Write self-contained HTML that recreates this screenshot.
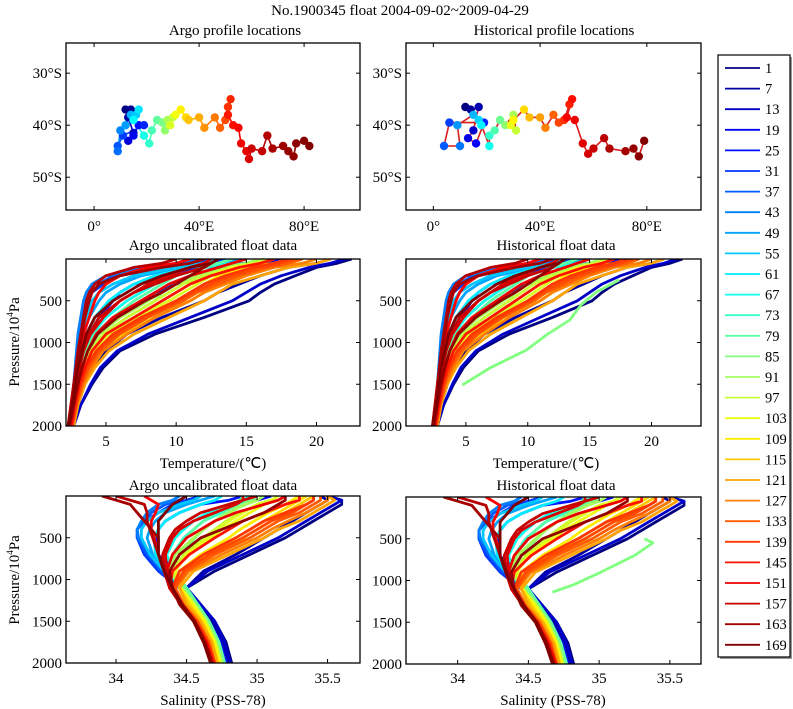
<!DOCTYPE html>
<html><head><meta charset="utf-8"><style>
html,body{margin:0;padding:0;background:#fff;}
svg{display:block;font-family:"Liberation Serif",serif;}
</style></head><body>
<svg id="fig" width="793" height="709" viewBox="0 0 793 709" xmlns="http://www.w3.org/2000/svg">
<rect width="793" height="709" fill="#fff"/>
<text x="400" y="15" text-anchor="middle" font-size="15">No.1900345 float 2004-09-02~2009-04-29</text>
<text x="235" y="35" text-anchor="middle" font-size="15">Argo profile locations</text>
<text x="554" y="35" text-anchor="middle" font-size="15">Historical profile locations</text>
<text x="213" y="250" text-anchor="middle" font-size="15">Argo uncalibrated float data</text>
<text x="556" y="250" text-anchor="middle" font-size="15">Historical  float data</text>
<text x="213" y="468" text-anchor="middle" font-size="15">Temperature/(℃)</text>
<text x="546" y="468" text-anchor="middle" font-size="15">Temperature/(℃)</text>
<text x="213" y="490" text-anchor="middle" font-size="15">Argo uncalibrated float data</text>
<text x="556" y="490" text-anchor="middle" font-size="15">Historical  float data</text>
<text x="213" y="705" text-anchor="middle" font-size="15">Salinity (PSS-78)</text>
<text x="553" y="705" text-anchor="middle" font-size="15">Salinity (PSS-78)</text>
<text transform="translate(19,342) rotate(-90)" text-anchor="middle" font-size="15">Pressure/10<tspan font-size="9" dy="-6">4</tspan><tspan dy="6">Pa</tspan></text>
<text transform="translate(19,580) rotate(-90)" text-anchor="middle" font-size="15">Pressure/10<tspan font-size="9" dy="-6">4</tspan><tspan dy="6">Pa</tspan></text>
<g id="layers"></g>
</svg>
<script>
// ---------- data ----------
const depthLevels=[0,50,100,200,300,400,500,700,900,1100,1300,1500,1750,2000];
const profileNums=[1,7,19,25,31,37,43,49,55,61,67,73,79,85,91,97,103,109,115,121,127,133,139,145,151,157,163,169,13,100,112,136,148,154,160,166];
const tempArgo=[
[22.5,21.5,20,18.5,17,16,15.2,12,8.5,6,4.8,4,3.2,2.7],
[21,20,18,16,14.5,13,12,9,6.5,5,4,3.5,3,2.6],
[18,16,14,12,10,8.5,7.5,5.5,4.2,3.6,3.2,3,2.8,2.5],
[17,15,12,9,7,6,5.5,4.5,3.8,3.4,3.1,2.9,2.7,2.5],
[14,12,9,6,4.8,4,3.7,3.4,3.2,3,2.9,2.8,2.6,2.4],
[13,11,8,5.5,4.5,4,3.6,3.3,3.1,3,2.9,2.7,2.6,2.4],
[12,10,8,5,4,3.6,3.4,3.2,3,2.9,2.8,2.7,2.6,2.4],
[15,13,10.5,7.5,6,5,4.5,3.8,3.4,3.1,3,2.8,2.6,2.4],
[13,12,10,7,5.5,4.5,4,3.6,3.3,3.1,3,2.8,2.6,2.4],
[14,13,11,8.5,7,6,5.2,4.2,3.6,3.3,3.1,2.9,2.7,2.4],
[15,14,12,10,8.5,7.5,6.5,5,4,3.5,3.2,3,2.8,2.5],
[16,15,13,11,9.5,8.5,7.5,5.8,4.5,3.8,3.4,3.1,2.8,2.5],
[14,13,12,10,9,8,7,5.5,4.2,3.6,3.3,3,2.8,2.5],
[15,14,13,11,10,9,8.5,6.5,4.8,4,3.5,3.1,2.8,2.5],
[16,15,13.5,11.5,10,9,8,6,4.5,3.8,3.4,3.1,2.8,2.5],
[16.5,15.5,14,12,10.5,9.5,8.5,6.5,4.8,3.9,3.4,3.1,2.8,2.5],
[17,16,14,12.5,11,10,9,7,5,4,3.5,3.1,2.8,2.6],
[18,17,15,13,12,11,10,7.5,5.5,4.3,3.6,3.2,2.9,2.6],
[19,18,16,14,12.5,11.5,10.5,8,6,4.5,3.8,3.3,2.9,2.6],
[21,20,18,16,14,13,12,9.5,7,5.2,4.2,3.5,3,2.7],
[20,19,17,15,13.5,12,11,8.5,6.5,4.8,4,3.4,2.9,2.6],
[19,18,16.5,14.5,13,11.5,10.5,8,6,4.6,3.8,3.3,2.9,2.6],
[18,17,15.5,13.5,12,11,10,7.5,5.5,4.3,3.6,3.2,2.8,2.6],
[17,16,14.5,12.5,11,10,9,7,5,4,3.5,3.1,2.8,2.5],
[15,14,13,11,9.5,8.5,7.5,5.5,4.3,3.7,3.3,3,2.7,2.5],
[13,12.5,12,10,8.5,7,6,4.5,3.8,3.4,3.1,2.9,2.6,2.4],
[12,11,9,6,4.5,4,3.8,3.5,3.3,3.1,2.9,2.8,2.6,2.3],
[13,12.5,11,9,7.5,6.5,5.5,4.2,3.6,3.3,3,2.8,2.6,2.3],
[22,21,19.5,17.5,16,15,14,11,8,5.8,4.6,3.9,3.2,2.7],
[17,16,14.5,12.5,11.5,10.5,9.5,7.2,5.2,4.1,3.5,3.1,2.8,2.6],
[19,18,16.5,14.5,13,12,11,8.5,6.2,4.7,3.9,3.4,3,2.7],
[18.5,17.5,16,14,12.5,11.2,10.2,7.8,5.8,4.4,3.7,3.2,2.9,2.6],
[11,10,8,6,5,4.5,4.2,3.8,3.4,3.1,2.9,2.7,2.5,2.3],
[12.5,12,11,9.5,8,7,6,4.8,3.9,3.4,3.1,2.9,2.6,2.4],
[10,9,7,5,4.2,3.8,3.6,3.4,3.2,3,2.85,2.7,2.5,2.3],
[13,12.5,12,11,10,9,7.8,5.8,4.4,3.7,3.3,3,2.7,2.4]];
const salArgo=[
[35.5,35.6,35.6,35.5,35.4,35.3,35.2,34.95,34.7,34.5,34.6,34.7,34.78,34.82],
[35.45,35.5,35.45,35.35,35.25,35.15,35.05,34.85,34.62,34.5,34.58,34.68,34.76,34.8],
[35.1,35.0,34.9,34.7,34.55,34.45,34.4,34.35,34.4,34.5,34.58,34.66,34.74,34.78],
[34.9,34.8,34.6,34.45,34.35,34.3,34.28,34.3,34.38,34.48,34.57,34.65,34.73,34.78],
[34.6,34.5,34.4,34.3,34.2,34.15,34.15,34.2,34.3,34.45,34.55,34.65,34.72,34.76],
[34.5,34.45,34.35,34.25,34.2,34.15,34.15,34.22,34.32,34.46,34.56,34.65,34.72,34.76],
[34.45,34.4,34.3,34.22,34.18,34.15,34.16,34.25,34.35,34.48,34.57,34.66,34.73,34.77],
[34.7,34.6,34.5,34.35,34.28,34.24,34.22,34.26,34.36,34.48,34.57,34.65,34.72,34.76],
[34.6,34.55,34.45,34.3,34.22,34.18,34.18,34.24,34.34,34.47,34.56,34.65,34.72,34.76],
[34.75,34.7,34.6,34.45,34.35,34.3,34.27,34.28,34.36,34.48,34.57,34.65,34.72,34.76],
[34.95,34.9,34.8,34.65,34.55,34.48,34.42,34.36,34.4,34.5,34.58,34.66,34.73,34.77],
[35.0,34.95,34.88,34.75,34.62,34.55,34.48,34.4,34.42,34.5,34.58,34.66,34.73,34.77],
[34.9,34.88,34.82,34.7,34.62,34.55,34.5,34.4,34.42,34.5,34.58,34.66,34.73,34.77],
[35.0,34.95,34.9,34.78,34.7,34.62,34.56,34.45,34.4,34.48,34.57,34.65,34.72,34.76],
[35.05,35.0,34.92,34.8,34.7,34.62,34.55,34.42,34.38,34.46,34.56,34.64,34.71,34.75],
[35.15,35.1,35.0,34.88,34.78,34.7,34.62,34.48,34.4,34.46,34.55,34.63,34.7,34.74],
[35.2,35.15,35.05,34.95,34.85,34.75,34.68,34.5,34.42,34.46,34.55,34.63,34.7,34.74],
[35.3,35.25,35.2,35.08,34.98,34.88,34.8,34.6,34.45,34.45,34.53,34.62,34.69,34.73],
[35.4,35.35,35.3,35.2,35.1,35.0,34.9,34.68,34.5,34.45,34.52,34.6,34.68,34.72],
[35.5,35.55,35.5,35.4,35.3,35.15,35.05,34.8,34.55,34.45,34.5,34.6,34.68,34.72],
[35.5,35.5,35.45,35.35,35.22,35.1,35.0,34.75,34.52,34.42,34.48,34.58,34.66,34.7],
[35.45,35.45,35.4,35.3,35.15,35.05,34.95,34.7,34.5,34.42,34.48,34.58,34.66,34.7],
[35.4,35.4,35.35,35.2,35.05,34.95,34.85,34.62,34.45,34.4,34.47,34.57,34.65,34.7],
[35.3,35.3,35.2,35.05,34.9,34.8,34.7,34.52,34.4,34.38,34.46,34.56,34.64,34.69],
[35.2,35.15,35.05,34.85,34.7,34.6,34.5,34.4,34.36,34.38,34.46,34.56,34.64,34.69],
[35.0,34.9,34.8,34.6,34.5,34.42,34.38,34.33,34.34,34.38,34.46,34.55,34.63,34.68],
[33.9,34.0,34.1,34.15,34.2,34.25,34.3,34.3,34.35,34.4,34.45,34.55,34.62,34.68],
[34.5,34.45,34.4,34.35,34.3,34.3,34.3,34.3,34.34,34.4,34.46,34.55,34.62,34.67],
[35.5,35.6,35.55,35.45,35.35,35.25,35.15,34.9,34.65,34.5,34.6,34.7,34.77,34.81],
[35.15,35.1,35.0,34.9,34.8,34.72,34.65,34.5,34.42,34.46,34.55,34.63,34.7,34.74],
[35.35,35.3,35.25,35.15,35.05,34.95,34.85,34.65,34.48,34.45,34.52,34.61,34.68,34.72],
[35.4,35.4,35.35,35.25,35.1,35.0,34.9,34.66,34.48,34.41,34.47,34.57,34.65,34.7],
[34.2,34.25,34.3,34.28,34.25,34.25,34.27,34.3,34.34,34.4,34.46,34.55,34.62,34.68],
[34.9,34.9,34.85,34.7,34.55,34.45,34.4,34.35,34.36,34.4,34.47,34.56,34.63,34.68],
[34.0,34.1,34.2,34.22,34.22,34.24,34.26,34.3,34.34,34.4,34.46,34.55,34.62,34.68],
[35.2,35.2,35.15,35.05,34.9,34.75,34.6,34.45,34.38,34.4,34.47,34.56,34.63,34.68]];
const histOutlierNum=85;
const histOutlierTempDepth=[250,400,550,730,910,1090,1300,1510];
const histOutlierTemp=[17.4,15.5,14.3,13.4,11.5,9.9,7,4.7];
const histOutlierSalDepth=[500,550,700,910,1050,1140];
const histOutlierSal=[35.32,35.38,35.25,35.0,34.82,34.67];
// map tracks: profile number, longitude (deg E), latitude (deg S)
const argoTrackNum=[1,4,8,12,16,20,24,28,32,36,40,44,48,52,56,60,64,68,72,76,80,84,88,92,96,100,104,108,112,116,120,124,128,132,136,140,142,144,146,148,150,152,154,156,158,160,162,164,165,166,167,168,169];
const argoTrackLon=[12,14,13,15,13,15,17,19,11,9,9,10,12,14,16,17,15,19,21,22,24,26,27,28,30,29,31,33,35,36,40,42,46,48,50,51,52,51,53,55,56,58,59,60,64,66,68,72,74,76,77,80,82];
const argoTrackLat=[37,37,38.5,41.5,43,42,40,40,42,44,45,41,40,38,38,37,39,42,43.5,41,39,39.5,41,39,38.5,40,38,37,38.5,39,38.5,40.5,38.5,40.5,39,36.5,35,38,40,40.5,43.5,45,46.5,44.5,45,42,44.5,44,45,46,43.5,43,44];
const histTrackNum=[1,5,9,14,18,22,27,32,37,42,47,52,57,62,67,72,77,82,87,92,97,102,107,112,117,122,127,132,137,140,143,146,149,151,153,155,157,159,161,163,165,167,169];
const histTrackLon=[12,14,17,15,13,16,19,6,4,10,9,15,17,18,21,21,23,25,27,30,31,29,30,34,36,40,42,45,47,49,51,52,50,53,56,58,60,64,66,72,75,77,79];
const histTrackLat=[36.5,37,36.5,41,42.5,43.5,39.5,39.5,44,44,40,38,39,40,44,42,41,39,40,38,41,40,39,37,38.5,38.5,40.5,38,39.5,39,36,35,38.5,39,43.5,45.5,44.5,42.5,44.5,45,44.5,46,43];
const legendLabels=[1,7,13,19,25,31,37,43,49,55,61,67,73,79,85,91,97,103,109,115,121,127,133,139,145,151,157,163,169];
const mapXTicks=[0,40,80], mapXTickLabels=["0°","40°E","80°E"];
const mapYTicks=[30,40,50], mapYTickLabels=["30°S","40°S","50°S"];
const pTicks=[500,1000,1500,2000];
const tTicks=[5,10,15,20];
const sTicks=[34,34.5,35,35.5];

// ---------- helpers ----------
const NS="http://www.w3.org/2000/svg";
const root=document.getElementById('layers');
function mk(tag,attrs,parent){const e=document.createElementNS(NS,tag);for(const k in attrs)e.setAttribute(k,attrs[k]);(parent||root).appendChild(e);return e;}
function jet(t){
  const r=Math.min(Math.max(Math.min(4*t-1.5,-4*t+4.5),0),1);
  const g=Math.min(Math.max(Math.min(4*t-0.5,-4*t+3.5),0),1);
  const b=Math.min(Math.max(Math.min(4*t+0.5,-4*t+2.5),0),1);
  return `rgb(${Math.round(r*255)},${Math.round(g*255)},${Math.round(b*255)})`;
}
function colorOf(n){return jet((n-1)/168);}
function linScale(d0,d1,r0,r1){return v=>r0+(v-d0)/(d1-d0)*(r1-r0);}

function makeAxes(id,box,xs,ys,xticks,xlabels,yticks,ylabels,xlabY){
  const g=mk('g',{});
  
  
  const cp=mk('clipPath',{id:id+'-clip'},g);
  mk('rect',{x:box.x0,y:box.y0,width:box.x1-box.x0,height:box.y1-box.y0},cp);
  const plot=mk('g',{'clip-path':`url(#${id}-clip)`},g);
  
  
  g._plot=plot;
  g._finish=function(){
    const fr=mk('rect',{x:box.x0,y:box.y0,width:box.x1-box.x0,height:box.y1-box.y0,fill:'none',stroke:'#000','stroke-width':1.3},g);
    
    
    xticks.forEach((v,i)=>{
      const x=xs(v);
      mk('line',{x1:x,x2:x,y1:box.y1,y2:box.y1-4,stroke:'#000'},g);
      mk('line',{x1:x,x2:x,y1:box.y0,y2:box.y0+4,stroke:'#000'},g);
      const t=mk('text',{x:x,y:xlabY,'text-anchor':'middle','font-size':15},g);
      t.textContent=xlabels[i];
      
      
    });
    yticks.forEach((v,i)=>{
      const y=ys(v);
      mk('line',{x1:box.x0,x2:box.x0+4,y1:y,y2:y,stroke:'#000'},g);
      mk('line',{x1:box.x1,x2:box.x1-4,y1:y,y2:y,stroke:'#000'},g);
      const t=mk('text',{x:box.x0-4,y:y+5,'text-anchor':'end','font-size':15},g);
      t.textContent=ylabels[i];
      
      
    });
  };
  return g;
}

function drawMap(id,box,lonMin,lonMax,num,lon,lat,histLine){
  const xs=linScale(lonMin,lonMax,box.x0,box.x1);
  const ys=linScale(24.2,56.3,box.y0,box.y1);
  const ax=makeAxes(id,box,xs,ys,mapXTicks,mapXTickLabels,mapYTicks,mapYTickLabels,231);
  const p=ax._plot;
  for(let i=1;i<num.length;i++){
    const l=mk('line',{x1:xs(lon[i-1]),y1:ys(lat[i-1]),x2:xs(lon[i]),y2:ys(lat[i]),stroke:histLine?'#d81e1e':colorOf(num[i]),'stroke-width':1.6},p);
    
    
  }
  for(let i=0;i<num.length;i++){
    const c=mk('circle',{cx:xs(lon[i]),cy:ys(lat[i]),r:4.2,fill:colorOf(num[i])},p);
    
    
  }
  ax._finish();
}

function drawProfiles(id,box,vmin,vmax,xticks,xlabY,series,extra,extraDepth){
  const xs=linScale(vmin,vmax,box.x0,box.x1);
  const ys=linScale(0,2000,box.y0,box.y1);
  const ax=makeAxes(id,box,xs,ys,xticks,xticks.map(String),pTicks,pTicks.map(String),xlabY);
  const p=ax._plot;
  const items=series.map((vals,i)=>({n:profileNums[i],vals:vals,deps:depthLevels}));
  if(extra) items.push({n:histOutlierNum,vals:extra,deps:extraDepth});
  items.sort((a,b)=>a.n-b.n);
  items.forEach(it=>{
    const pts=it.vals.map((v,j)=>xs(v).toFixed(1)+','+ys(it.deps[j]).toFixed(1)).join(' ');
    const pl=mk('polyline',{points:pts,fill:'none',stroke:colorOf(it.n),'stroke-width':2.8,'stroke-linejoin':'round'},p);
    
    
  });
  ax._finish();
}

// ---------- panels ----------
drawMap('argo-map',{x0:66,x1:360,y0:43,y1:210},-10.7,101.3,argoTrackNum,argoTrackLon,argoTrackLat,false);
drawMap('historical-map',{x0:406,x1:701,y0:43,y1:210},-10.25,100.3,histTrackNum,histTrackLon,histTrackLat,true);
drawProfiles('argo-temp',{x0:66,x1:360,y0:259,y1:426},2.15,23.1,tTicks,446,tempArgo,null,null);
drawProfiles('historical-temp',{x0:406,x1:701,y0:259,y1:426},0.16,24.0,tTicks,446,tempArgo,histOutlierTemp,histOutlierTempDepth);
drawProfiles('argo-sal',{x0:66,x1:360,y0:496,y1:663},33.645,35.73,sTicks,683,salArgo,null,null);
drawProfiles('historical-sal',{x0:406,x1:701,y0:497,y1:664},33.635,35.72,sTicks,683,salArgo,histOutlierSal,histOutlierSalDepth);

// ---------- legend ----------
const lg=mk('g',{});


mk('rect',{x:720,y:57,width:72,height:602,fill:'#999'},lg);
const lbox=mk('rect',{x:718,y:55,width:72,height:602,fill:'#fff',stroke:'#000','stroke-width':1.2},lg);


legendLabels.forEach((n,i)=>{
  const y=68+i*20.6;
  const e=mk('g',{},lg);
  
  
  mk('line',{x1:725,x2:760,y1:y,y2:y,stroke:colorOf(n),'stroke-width':1.8},e);
  const t=mk('text',{x:765,y:y+5,'font-size':14.5},e);
  t.textContent=String(n);
});
</script>
</body></html>
